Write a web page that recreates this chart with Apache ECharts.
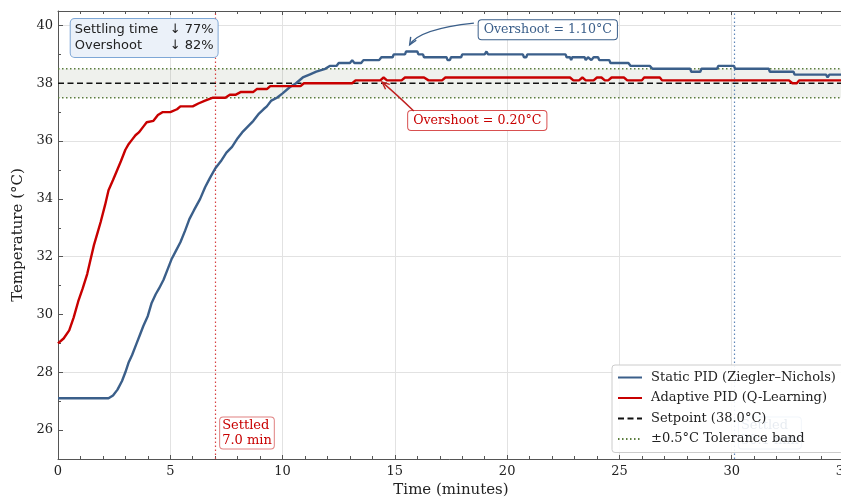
<!DOCTYPE html>
<html><head><meta charset="utf-8">
<script src="https://cdn.jsdelivr.net/npm/echarts@6/dist/echarts.min.js"></script>
<style>html,body{margin:0;padding:0;background:#fff}#c{width:841px;height:499px}</style>
</head><body><div id="c"></div>
<script>
// ---- data ----
const staticTime = [0,2.25,2.45,2.65,2.85,3.0,3.15,3.3,3.5,3.65,3.8,4.0,4.17,4.35,4.5,4.7,4.85,5.05,5.25,5.45,5.66,5.85,6.05,6.33,6.55,6.75,7.0,7.25,7.5,7.75,8.0,8.2,8.45,8.7,8.95,9.15,9.3,9.5,9.75,10.0,10.33,10.6,10.9,11.2,11.5,11.9,12.1,12.4,12.5,13.0,13.1,13.2,13.5,13.6,14.3,14.4,14.9,14.95,15.45,15.5,16.0,16.05,16.25,16.3,17.3,17.35,17.45,17.5,17.95,18.0,19.0,19.08,19.15,20.7,20.75,20.85,20.9,22.6,22.65,22.8,22.85,22.9,23.45,23.5,23.6,23.75,23.85,24.05,24.1,24.55,24.6,25.4,25.5,26.35,26.4,26.47,28.15,28.2,28.6,28.65,29.35,29.4,30.1,30.15,31.65,31.7,32.75,32.8,34.2,34.27,34.35,35];
const staticTemp = [27.1,27.1,27.2,27.4,27.7,28.0,28.35,28.6,29.0,29.3,29.6,29.95,30.4,30.7,30.9,31.2,31.5,31.9,32.2,32.5,32.9,33.3,33.6,34.0,34.4,34.7,35.05,35.3,35.6,35.8,36.1,36.3,36.5,36.7,36.95,37.1,37.2,37.4,37.5,37.65,37.87,38.0,38.2,38.3,38.4,38.5,38.6,38.6,38.7,38.7,38.8,38.7,38.7,38.8,38.8,38.9,38.9,39.0,39.0,39.1,39.1,39.0,39.0,38.9,38.9,38.8,38.8,38.9,38.9,39.0,39.0,39.1,39.0,39.0,38.9,38.9,39.0,39.0,38.9,38.9,38.8,38.9,38.9,38.8,38.9,38.8,38.9,38.9,38.8,38.8,38.7,38.7,38.6,38.6,38.65,38.5,38.5,38.4,38.4,38.5,38.5,38.6,38.6,38.5,38.5,38.4,38.4,38.3,38.3,38.2,38.3,38.3];
const adaptiveTime = [0,0.25,0.5,0.7,0.9,1.1,1.3,1.45,1.6,1.75,1.9,2.1,2.25,2.45,2.6,2.8,3.0,3.15,3.3,3.45,3.6,3.8,3.95,4.25,4.45,4.65,5.0,5.3,5.45,6.0,6.25,6.55,6.9,7.45,7.65,7.9,8.15,8.7,8.85,9.3,9.45,10.8,10.95,13.1,13.25,14.35,14.5,14.65,15.3,15.45,16.3,16.5,17.1,17.25,22.8,22.95,23.2,23.35,23.5,23.85,24.0,24.2,24.35,24.5,24.65,25.2,25.35,26.0,26.1,26.8,26.9,32.55,32.7,32.9,33.0,35];
const adaptiveTemp = [29.0,29.17,29.45,29.9,30.45,30.9,31.4,31.9,32.4,32.8,33.2,33.8,34.3,34.65,34.93,35.3,35.7,35.9,36.05,36.2,36.3,36.5,36.65,36.7,36.9,37.0,37.0,37.1,37.2,37.2,37.3,37.4,37.5,37.5,37.6,37.6,37.7,37.7,37.8,37.8,37.9,37.9,38.0,38.0,38.1,38.1,38.2,38.1,38.1,38.2,38.2,38.1,38.1,38.2,38.2,38.1,38.1,38.2,38.1,38.1,38.2,38.2,38.1,38.1,38.2,38.2,38.1,38.1,38.2,38.2,38.1,38.1,38.0,38.0,38.1,38.1];
const setpoint = 38.0;
const tolerance = 0.5;
const settleStatic = 30.1;
const settleAdaptive = 7.0;
const peakStatic = [15.66, 39.33];   // arrow tip near static overshoot peak
const peakAdaptive = [14.43, 38.04]; // arrow tip near adaptive overshoot peak
const xRange = [0, 35];
const yRange = [25, 40.5];
const yLabelTicks = [26, 28, 30, 32, 34, 36, 38, 40];
const yMinorTicks = [25, 27, 29, 31, 33, 35, 37, 39];

const names = {
  stat: 'Static PID (Ziegler\u2013Nichols)',
  adap: 'Adaptive PID (Q-Learning)',
  sp: 'Setpoint (38.0\u00b0C)',
  tol: '\u00b10.5\u00b0C Tolerance band'
};
const BLUE = '#3b5f8a', RED = '#c80000';
const SERIF = 'DejaVu Serif';

const zip = (a, b) => a.map((t, i) => [t, b[i]]);

const chart = echarts.init(document.getElementById('c'), null, {renderer: 'canvas'});

const axisLineStyle = {color: '#555', width: 1};
const option = {
  animation: false,
  backgroundColor: '#fff',
  grid: {left: 58, right: -3, top: 11, bottom: 40, containLabel: false, outerBoundsMode: 'none'},
  xAxis: [{
    type: 'value', min: xRange[0], max: xRange[1], interval: 5,
    name: 'Time (minutes)', nameLocation: 'middle', nameGap: 24,
    nameTextStyle: {fontFamily: SERIF, fontSize: 15, color: '#222'},
    axisLine: {show: true, lineStyle: axisLineStyle},
    axisTick: {show: true, inside: true, length: 4, lineStyle: {color: '#555'}},
    minorTick: {show: true, splitNumber: 5, length: 3, lineStyle: {color: '#555'}},
    axisLabel: {fontFamily: SERIF, fontSize: 13, color: '#222', margin: 6, hideOverlap: false},
    splitLine: {show: true, lineStyle: {color: '#e2e2e2', width: 1}}
  }, {
    type: 'value', position: 'top', min: xRange[0], max: xRange[1], interval: 5,
    axisLine: {show: true, lineStyle: axisLineStyle},
    axisTick: {show: true, inside: true, length: 4, lineStyle: {color: '#555'}},
    minorTick: {show: true, splitNumber: 5, length: 3, lineStyle: {color: '#555'}},
    axisLabel: {show: false}, splitLine: {show: false}
  }],
  yAxis: [{
    type: 'value', min: yRange[0], max: yRange[1], interval: 1,
    name: 'Temperature (\u00b0C)', nameLocation: 'middle', nameGap: 30,
    nameTextStyle: {fontFamily: SERIF, fontSize: 15, color: '#222'},
    axisLine: {show: true, lineStyle: axisLineStyle},
    axisTick: {show: true, inside: true, length: 5, customValues: yLabelTicks, lineStyle: {color: '#555'}},
    axisLabel: {fontFamily: SERIF, fontSize: 13, color: '#222', margin: 5,
      formatter: v => (yLabelTicks.indexOf(v) >= 0 ? String(v) : '')},
    splitLine: {show: true, lineStyle: {color: ['rgba(0,0,0,0)', '#e2e2e2'], width: 1}}
  }, {
    type: 'value', position: 'left', min: yRange[0], max: yRange[1], interval: 1,
    axisLine: {show: false},
    axisTick: {show: true, inside: true, length: 3, customValues: yMinorTicks, lineStyle: {color: '#555'}},
    axisLabel: {show: false}, splitLine: {show: false}
  }],
  legend: {
    orient: 'vertical', left: 612, top: 365,
    itemWidth: 24, itemHeight: 12, itemGap: 7.5,
    padding: [6, 8, 7, 5],
    itemStyle: {opacity: 0},
    backgroundColor: 'rgba(255,255,255,0.88)', borderColor: '#cccccc', borderWidth: 1, borderRadius: 3,
    textStyle: {fontFamily: SERIF, fontSize: 13, color: '#222', padding: [0, 0, 0, 4]},
    z: 20,
    data: [names.stat, names.adap, names.sp, names.tol]
  },
  series: [
    {
      name: names.tol, type: 'line', showSymbol: false, symbol: 'none', silent: true,
      data: [[xRange[0], setpoint + tolerance], [xRange[1], setpoint + tolerance]],
      lineStyle: {color: '#5b7d3e', width: 1.5, type: [1.5, 2.5]}, itemStyle: {color: '#5b7d3e'},
      markArea: {silent: true, itemStyle: {color: 'rgba(120,140,110,0.12)'},
        data: [[{yAxis: setpoint - tolerance}, {yAxis: setpoint + tolerance}]]},
      z: 3
    },
    {
      name: names.tol, type: 'line', showSymbol: false, symbol: 'none', silent: true,
      data: [[xRange[0], setpoint - tolerance], [xRange[1], setpoint - tolerance]],
      lineStyle: {color: '#5b7d3e', width: 1.5, type: [1.5, 2.5]}, itemStyle: {color: '#5b7d3e'},
      z: 3
    },
    {
      name: names.sp, type: 'line', showSymbol: false, symbol: 'none', silent: true,
      data: [[xRange[0], setpoint], [xRange[1], setpoint]],
      lineStyle: {color: '#111', width: 1.5, type: [6, 3.5]}, itemStyle: {color: '#111'},
      z: 3
    },
    {
      name: names.stat, type: 'line', showSymbol: false, symbol: 'none',
      data: zip(staticTime, staticTemp),
      lineStyle: {color: BLUE, width: 2.4}, itemStyle: {color: BLUE},
      markLine: {silent: true, symbol: 'none', label: {show: false},
        lineStyle: {color: '#5f86b8', width: 1.2, type: [1.5, 2.5], opacity: 1},
        data: [{xAxis: settleStatic}]},
      z: 5
    },
    {
      name: names.adap, type: 'line', showSymbol: false, symbol: 'none',
      data: zip(adaptiveTime, adaptiveTemp),
      lineStyle: {color: RED, width: 2.4}, itemStyle: {color: RED},
      markLine: {silent: true, symbol: 'none', label: {show: false},
        lineStyle: {color: '#d84040', width: 1.2, type: [1.5, 2.5], opacity: 1},
        data: [{xAxis: settleAdaptive}]},
      z: 6
    }
  ]
};
chart.setOption(option);

// ---- annotations anchored to data coordinates ----
const P = (x, y) => chart.convertToPixel({xAxisIndex: 0, yAxisIndex: 0}, [x, y]);

function curvedArrow(p0, c, p1, color) {
  const dx = p1[0] - c[0], dy = p1[1] - c[1];
  const len = Math.hypot(dx, dy) || 1;
  const ux = dx / len, uy = dy / len;
  const L = 8, a = 24 * Math.PI / 180;
  const rot = (s) => [
    p1[0] - L * (ux * Math.cos(s * a) - uy * Math.sin(s * a)),
    p1[1] - L * (ux * Math.sin(s * a) + uy * Math.cos(s * a))
  ];
  return [
    {type: 'bezierCurve', z: 30, silent: true,
      shape: {x1: p0[0], y1: p0[1], cpx1: c[0], cpy1: c[1], x2: p1[0], y2: p1[1]},
      style: {stroke: color, lineWidth: 1.4, fill: null}},
    {type: 'polyline', z: 30, silent: true,
      shape: {points: [rot(1), p1, rot(-1)]},
      style: {stroke: color, lineWidth: 1.4, fill: null}}
  ];
}

const corner = P(xRange[0], yRange[1]);
const blueBox = P(21.81, 39.85);
const redBox = P(18.67, 36.71);
const redSettle = P(settleAdaptive + 0.22, 25.9);
const blueSettle = P(settleStatic + 0.22, 25.9);

const graphics = [
  {type: 'text', z: 30, silent: true, x: corner[0] + 12.7, y: corner[1] + 8,
    style: {
      text: '{a|Settling time}{b|\u2193 77%}\n{a|Overshoot}{b|\u2193 82%}',
      rich: {
        a: {fontFamily: 'DejaVu Sans', fontSize: 13, fill: '#222', width: 95, lineHeight: 16},
        b: {fontFamily: 'DejaVu Sans', fontSize: 13, fill: '#222', lineHeight: 16}
      },
      align: 'left', verticalAlign: 'top',
      backgroundColor: '#ebf1f9', borderColor: '#7ea7d6', borderWidth: 1, borderRadius: 4,
      padding: [3, 4, 3, 4]
    }},
  {type: 'text', z: 30, silent: true, x: blueBox[0], y: blueBox[1],
    style: {text: 'Overshoot = 1.10\u00b0C', font: '12.6px "DejaVu Serif"', fill: BLUE,
      align: 'center', verticalAlign: 'middle',
      backgroundColor: '#fff', borderColor: BLUE, borderWidth: 1, borderRadius: 3, padding: [3, 5, 3, 5]}},
  {type: 'text', z: 30, silent: true, x: redBox[0], y: redBox[1],
    style: {text: 'Overshoot = 0.20\u00b0C', font: '12.6px "DejaVu Serif"', fill: RED,
      align: 'center', verticalAlign: 'middle',
      backgroundColor: '#fff', borderColor: '#d85050', borderWidth: 1, borderRadius: 3, padding: [3, 5, 3, 5]}},
  {type: 'text', z: 8, silent: true, x: redSettle[0], y: redSettle[1],
    style: {text: 'Settled\n7.0 min', font: '13px "DejaVu Serif"', fill: RED, lineHeight: 14.5,
      align: 'left', verticalAlign: 'middle',
      backgroundColor: '#fff', borderColor: '#e08080', borderWidth: 1, borderRadius: 3, padding: [1, 2, 1, 2]}},
  {type: 'text', z: 8, silent: true, x: blueSettle[0], y: blueSettle[1],
    style: {text: 'Settled\n' + settleStatic.toFixed(1) + ' min', font: '13px "DejaVu Serif"', fill: BLUE, lineHeight: 14.5,
      align: 'left', verticalAlign: 'middle',
      backgroundColor: '#fff', borderColor: '#8fb0d8', borderWidth: 1, borderRadius: 3, padding: [1, 2, 1, 2]}}
];
graphics.push(...curvedArrow(P(18.52, 40.08), P(16.09, 39.88), P(peakStatic[0], peakStatic[1]), BLUE));
graphics.push(...curvedArrow(P(15.84, 37.04), P(15.07, 37.62), P(peakAdaptive[0], peakAdaptive[1]), '#c02020'));

chart.setOption({graphic: {elements: graphics}});
</script>
</body></html>
